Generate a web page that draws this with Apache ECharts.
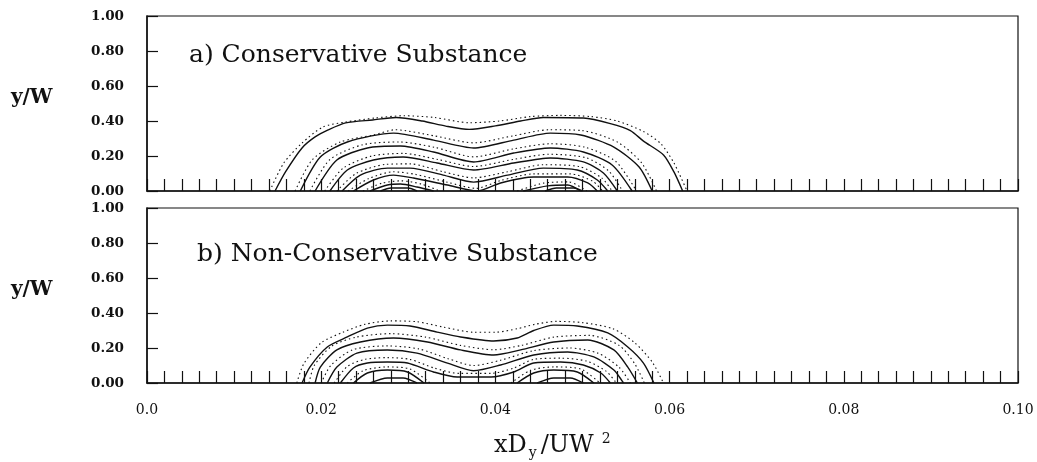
<!DOCTYPE html>
<html>
<head>
<meta charset="utf-8">
<script src="https://cdn.jsdelivr.net/npm/echarts/dist/echarts.min.js"></script>
<style>
    html, body {margin: 0; background: #fff}
    #main {width: 1037px; height: 462px}
</style>
</head>
<body>
<div id="main"></div>
<script>
    // tick labels
    var xTicks = ['0.0', '0.02', '0.04', '0.06', '0.08', '0.10'];
    var yTicks = ['0.00', '0.20', '0.40', '0.60', '0.80', '1.00'];

    // a) conservative substance, contour lines [xDy/UW2, y/W]
    var consSolid = [
        [[0.0147,0],[0.0159,0.109],[0.0178,0.246],[0.0193,0.309],[0.0208,0.349],[0.0228,0.389],[0.0259,0.406],[0.0286,0.420],[0.0316,0.400],[0.0343,0.371],[0.0370,0.352],[0.0400,0.372],[0.0429,0.400],[0.0455,0.420],[0.0501,0.417],[0.0532,0.385],[0.0555,0.345],[0.0570,0.285],[0.0593,0.206],[0.0605,0.109],[0.0615,0]],
        [[0.0176,0],[0.0199,0.194],[0.0230,0.280],[0.0283,0.331],[0.0329,0.291],[0.0375,0.246],[0.0421,0.291],[0.0463,0.331],[0.0498,0.320],[0.0536,0.251],[0.0565,0.137],[0.0580,0]],
        [[0.0193,0],[0.0218,0.177],[0.0253,0.246],[0.0291,0.257],[0.0329,0.223],[0.0375,0.166],[0.0421,0.217],[0.0463,0.246],[0.0501,0.223],[0.0534,0.149],[0.0557,0]],
        [[0.0210,0],[0.0230,0.120],[0.0260,0.177],[0.0294,0.194],[0.0333,0.160],[0.0375,0.120],[0.0421,0.160],[0.0463,0.189],[0.0501,0.166],[0.0524,0.103],[0.0540,0]],
        [[0.0224,0],[0.0245,0.091],[0.0276,0.131],[0.0302,0.131],[0.0340,0.091],[0.0375,0.051],[0.0414,0.091],[0.0455,0.131],[0.0494,0.120],[0.0517,0.063],[0.0529,0]],
        [[0.0237,0],[0.0260,0.063],[0.0283,0.091],[0.0306,0.074],[0.0345,0.034],[0.0379,0],[0.0406,0.046],[0.0444,0.080],[0.0483,0.080],[0.0506,0.046],[0.0517,0]],
        [[0.0256,0],[0.0276,0.034],[0.0291,0.040],[0.0310,0.023],[0.0329,0]],
        [[0.0432,0],[0.0460,0.029],[0.0483,0.034],[0.0498,0]],
        [[0.0268,0],[0.0280,0.017],[0.0300,0.017],[0.0310,0]],
        [[0.0457,0],[0.0470,0.017],[0.0490,0.017],[0.0500,0]]
    ];
    var consDotted = [
        [[0.0141,0],[0.0157,0.160],[0.0178,0.274],[0.0202,0.366],[0.0228,0.394],[0.0262,0.417],[0.0295,0.430],[0.0330,0.420],[0.0370,0.390],[0.0405,0.400],[0.0440,0.425],[0.0475,0.432],[0.0510,0.425],[0.0540,0.400],[0.0570,0.340],[0.0590,0.270],[0.0605,0.160],[0.0620,0]],
        [[0.0170,0],[0.0190,0.180],[0.0222,0.280],[0.0260,0.320],[0.0285,0.350],[0.0330,0.315],[0.0375,0.275],[0.0420,0.315],[0.0462,0.350],[0.0500,0.345],[0.0540,0.280],[0.0568,0.160],[0.0585,0]],
        [[0.0187,0],[0.0210,0.180],[0.0248,0.265],[0.0290,0.280],[0.0330,0.250],[0.0375,0.195],[0.0420,0.240],[0.0463,0.270],[0.0503,0.250],[0.0538,0.170],[0.0562,0]],
        [[0.0204,0],[0.0225,0.130],[0.0258,0.200],[0.0294,0.215],[0.0334,0.180],[0.0375,0.140],[0.0420,0.180],[0.0462,0.210],[0.0504,0.190],[0.0530,0.115],[0.0546,0]],
        [[0.0218,0],[0.0240,0.100],[0.0274,0.152],[0.0302,0.155],[0.0340,0.110],[0.0375,0.075],[0.0414,0.110],[0.0455,0.150],[0.0496,0.140],[0.0522,0.075],[0.0534,0]],
        [[0.0231,0],[0.0254,0.070],[0.0283,0.110],[0.0308,0.095],[0.0345,0.050],[0.0378,0.015],[0.0406,0.060],[0.0444,0.098],[0.0486,0.098],[0.0512,0.055],[0.0523,0]],
        [[0.0248,0],[0.0270,0.045],[0.0292,0.058],[0.0315,0.040],[0.0336,0]],
        [[0.0425,0],[0.0455,0.045],[0.0484,0.052],[0.0505,0]]
    ];

    // b) non-conservative substance
    var nonConsSolid = [
        [[0.0178,0],[0.0187,0.091],[0.0207,0.206],[0.0230,0.263],[0.0253,0.314],[0.0276,0.331],[0.0302,0.326],[0.0333,0.291],[0.0360,0.263],[0.0398,0.240],[0.0425,0.257],[0.0444,0.300],[0.0467,0.331],[0.0494,0.326],[0.0529,0.286],[0.0552,0.206],[0.0570,0.114],[0.0582,0]],
        [[0.0193,0],[0.0199,0.091],[0.0218,0.189],[0.0245,0.234],[0.0283,0.257],[0.0322,0.234],[0.0360,0.189],[0.0398,0.160],[0.0429,0.189],[0.0467,0.234],[0.0506,0.246],[0.0536,0.189],[0.0552,0.091],[0.0563,0]],
        [[0.0207,0],[0.0218,0.091],[0.0241,0.171],[0.0276,0.189],[0.0310,0.171],[0.0345,0.114],[0.0375,0.070],[0.0406,0.103],[0.0444,0.160],[0.0483,0.177],[0.0513,0.149],[0.0536,0.074],[0.0547,0]],
        [[0.0222,0],[0.0237,0.086],[0.0253,0.114],[0.0276,0.120],[0.0299,0.114],[0.0329,0.063],[0.0356,0.034],[0.0395,0.034],[0.0421,0.063],[0.0444,0.114],[0.0475,0.120],[0.0501,0.103],[0.0521,0.057],[0.0532,0]],
        [[0.0237,0],[0.0253,0.057],[0.0276,0.074],[0.0299,0.063],[0.0318,0]],
        [[0.0425,0],[0.0444,0.057],[0.0467,0.074],[0.0494,0.063],[0.0513,0]],
        [[0.0256,0],[0.0276,0.029],[0.0294,0.029],[0.0310,0]],
        [[0.0448,0],[0.0467,0.029],[0.0486,0.029],[0.0501,0]]
    ];
    var nonConsDotted = [
        [[0.0172,0],[0.0180,0.110],[0.0200,0.230],[0.0225,0.290],[0.0250,0.335],[0.0280,0.355],[0.0310,0.350],[0.0340,0.320],[0.0375,0.290],[0.0400,0.290],[0.0425,0.310],[0.0445,0.335],[0.0470,0.352],[0.0500,0.345],[0.0535,0.310],[0.0560,0.230],[0.0580,0.120],[0.0593,0]],
        [[0.0186,0],[0.0192,0.100],[0.0212,0.210],[0.0240,0.262],[0.0280,0.282],[0.0320,0.262],[0.0360,0.215],[0.0398,0.190],[0.0430,0.215],[0.0467,0.262],[0.0508,0.272],[0.0542,0.215],[0.0560,0.110],[0.0571,0]],
        [[0.0200,0],[0.0211,0.100],[0.0236,0.190],[0.0276,0.212],[0.0312,0.195],[0.0345,0.140],[0.0375,0.100],[0.0406,0.130],[0.0444,0.185],[0.0485,0.200],[0.0518,0.170],[0.0542,0.090],[0.0555,0]],
        [[0.0215,0],[0.0230,0.095],[0.0250,0.135],[0.0276,0.145],[0.0302,0.135],[0.0330,0.085],[0.0358,0.055],[0.0395,0.055],[0.0421,0.085],[0.0444,0.135],[0.0475,0.142],[0.0505,0.125],[0.0527,0.068],[0.0539,0]],
        [[0.0230,0],[0.0248,0.070],[0.0276,0.092],[0.0302,0.080],[0.0325,0]],
        [[0.0418,0],[0.0440,0.072],[0.0467,0.092],[0.0498,0.080],[0.0520,0]]
    ];

    var serif = '"DejaVu Serif", "Liberation Serif", serif';
    var ink = '#111';

    var series = [];
    function addLines(list, gi, dotted) {
        list.forEach(function (pts) {
            series.push({
                type: 'line', xAxisIndex: gi, yAxisIndex: gi, data: pts,
                symbol: 'none', silent: true, smooth: 0.25,
                lineStyle: dotted ? {color: ink, width: 1.1, type: [1.5, 3]} : {color: ink, width: 1.4}
            });
        });
    }
    addLines(consSolid, 0, false);
    addLines(consDotted, 0, true);
    addLines(nonConsSolid, 1, false);
    addLines(nonConsDotted, 1, true);

    function xAxisFor(gi) {
        return {
            gridIndex: gi, type: 'value', min: 0, max: 0.1, interval: 0.02,
            axisLine: {lineStyle: {color: ink, width: 1.5}},
            axisTick: {inside: true, length: 12, lineStyle: {color: ink, width: 1.2}},
            minorTick: {show: true, splitNumber: 10, length: 12, lineStyle: {color: ink, width: 1.2}},
            splitLine: {show: false},
            axisLabel: gi === 1 ? {
                margin: 20, color: ink, fontFamily: serif, fontSize: 14,
                formatter: function (v) { return xTicks[Math.round(v / 0.02)]; }
            } : {show: false}
        };
    }
    function yAxisFor(gi) {
        return {
            gridIndex: gi, type: 'value', min: 0, max: 1, interval: 0.2,
            axisLine: {show: true, lineStyle: {color: ink, width: 1.5}},
            axisTick: {show: true, inside: true, length: 11, lineStyle: {color: ink, width: 1.2}},
            splitLine: {show: false},
            axisLabel: {
                margin: 23, color: ink, fontFamily: serif, fontSize: 13.5, fontWeight: 'bold',
                formatter: function (v) { return yTicks[Math.round(v / 0.2)]; }
            }
        };
    }

    var chart = echarts.init(document.getElementById('main'));
    chart.setOption({
        animation: false,
        backgroundColor: '#fff',
        grid: [
            {left: 147, right: 19, top: 16, height: 175, show: true, borderColor: ink, borderWidth: 1.2},
            {left: 147, right: 19, top: 208, height: 175, show: true, borderColor: ink, borderWidth: 1.2}
        ],
        xAxis: [xAxisFor(0), xAxisFor(1)],
        yAxis: [yAxisFor(0), yAxisFor(1)],
        graphic: [
            {type: 'text', left: 189, top: 43, style: {text: 'a) Conservative Substance', fill: ink, font: '25px ' + serif}},
            {type: 'text', left: 197, top: 242, style: {text: 'b) Non-Conservative Substance', fill: ink, font: '25px ' + serif}},
            {type: 'text', left: 11, top: 88, style: {text: 'y/W', fill: ink, font: 'bold 20px ' + serif}},
            {type: 'text', left: 11, top: 280, style: {text: 'y/W', fill: ink, font: 'bold 20px ' + serif}},
            {
                type: 'text', left: 494, top: 432,
                style: {
                    text: '{a|xD}{s|y}{a|/UW}{p|2}', fill: ink,
                    rich: {
                        a: {fontFamily: serif, fontSize: 24, lineHeight: 28, fill: ink},
                        s: {fontFamily: serif, fontSize: 14, lineHeight: 13, verticalAlign: 'bottom', fill: ink, padding: [0, 4, 0, 2]},
                        p: {fontFamily: serif, fontSize: 14, lineHeight: 13, verticalAlign: 'top', fill: ink, padding: [0, 0, 0, 8]}
                    }
                }
            }
        ],
        series: series
    });
</script>
</body>
</html>
